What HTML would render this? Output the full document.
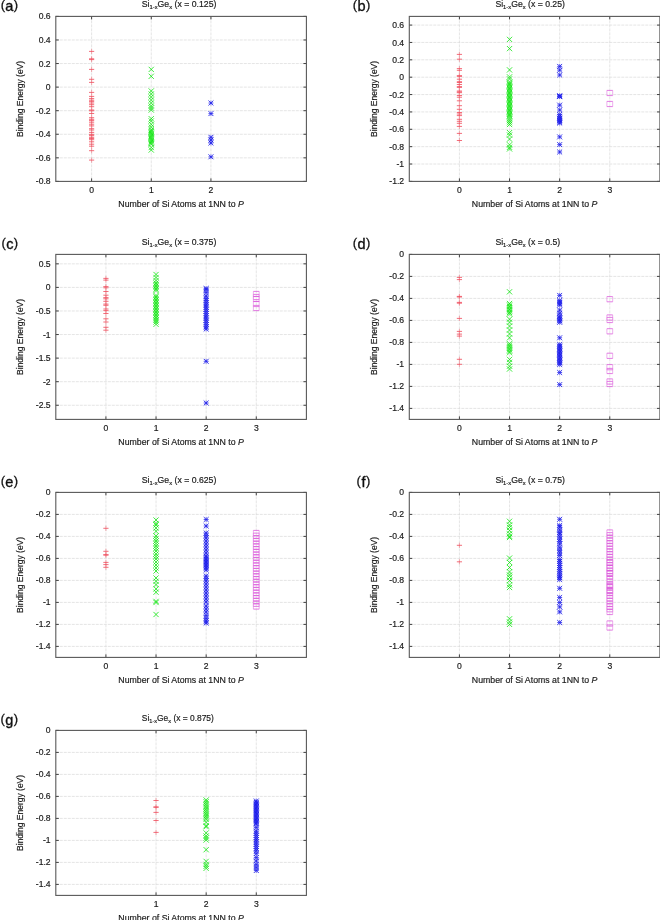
<!DOCTYPE html>
<html><head><meta charset="utf-8"><style>
html,body{margin:0;padding:0;background:#fff;width:660px;height:920px;overflow:hidden}
svg{display:block}
text{font-family:"Liberation Sans",sans-serif;fill:#1a1a1a;stroke:#1a1a1a;stroke-width:0.18}
.tl{font-size:8.6px}
.al{font-size:9px}
.ti{font-size:8.4px}
.pl{font-size:14.5px;fill:#111;stroke:#111;stroke-width:0.35}
.pp{font-size:13px;fill:#111;stroke:#111;stroke-width:0.3}
.grid{stroke:#dadada;stroke-width:0.7;stroke-dasharray:3 1;fill:none}
.tick{stroke:#404040;stroke-width:1;fill:none}
.box{stroke:#585858;stroke-width:1.1;fill:none}
.mk path,.mk rect{stroke-width:0.8;fill:none}
</style></head><body>
<svg width="660" height="920" viewBox="0 0 660 920">
<defs><filter id="bl" x="0" y="0" width="100%" height="100%"><feGaussianBlur stdDeviation="0.35"/></filter>
<filter id="bl2" x="0" y="0" width="100%" height="100%"><feGaussianBlur stdDeviation="0.45"/></filter></defs>
<rect width="660" height="920" fill="#fff"/>
<g filter="url(#bl2)">
<path class="grid" d="M55.80 157.83H306.40M55.80 134.26H306.40M55.80 110.69H306.40M55.80 87.11H306.40M55.80 63.54H306.40M55.80 39.97H306.40M91.60 16.40V181.40M151.27 16.40V181.40M210.93 16.40V181.40"/>
<path class="grid" d="M409.30 164.03H659.90M409.30 146.66H659.90M409.30 129.29H659.90M409.30 111.93H659.90M409.30 94.56H659.90M409.30 77.19H659.90M409.30 59.82H659.90M409.30 42.45H659.90M409.30 25.08H659.90M459.42 16.40V181.40M509.54 16.40V181.40M559.66 16.40V181.40M609.78 16.40V181.40"/>
<path class="grid" d="M55.80 405.26H306.40M55.80 381.69H306.40M55.80 358.11H306.40M55.80 334.54H306.40M55.80 310.97H306.40M55.80 287.40H306.40M55.80 263.83H306.40M105.92 254.40V419.40M156.04 254.40V419.40M206.16 254.40V419.40M256.28 254.40V419.40"/>
<path class="grid" d="M409.30 408.40H659.90M409.30 386.40H659.90M409.30 364.40H659.90M409.30 342.40H659.90M409.30 320.40H659.90M409.30 298.40H659.90M409.30 276.40H659.90M459.42 254.40V419.40M509.54 254.40V419.40M559.66 254.40V419.40M609.78 254.40V419.40"/>
<path class="grid" d="M55.80 646.40H306.40M55.80 624.40H306.40M55.80 602.40H306.40M55.80 580.40H306.40M55.80 558.40H306.40M55.80 536.40H306.40M55.80 514.40H306.40M105.92 492.40V657.40M156.04 492.40V657.40M206.16 492.40V657.40M256.28 492.40V657.40"/>
<path class="grid" d="M409.30 646.40H659.90M409.30 624.40H659.90M409.30 602.40H659.90M409.30 580.40H659.90M409.30 558.40H659.90M409.30 536.40H659.90M409.30 514.40H659.90M459.42 492.40V657.40M509.54 492.40V657.40M559.66 492.40V657.40M609.78 492.40V657.40"/>
<path class="grid" d="M55.80 884.40H306.40M55.80 862.40H306.40M55.80 840.40H306.40M55.80 818.40H306.40M55.80 796.40H306.40M55.80 774.40H306.40M55.80 752.40H306.40M156.04 730.40V895.40M206.16 730.40V895.40M256.28 730.40V895.40"/>
<g class="mk"><path d="M91.60 48.80V54.00M91.60 56.20V61.40M91.60 57.00V62.20M91.60 66.80V72.00M91.60 76.70V81.90M91.60 79.80V85.00M91.60 89.80V95.00M91.60 93.80V99.00M91.60 96.00V101.20M91.60 97.60V102.80M91.60 98.80V104.00M91.60 100.40V105.60M91.60 102.10V107.30M91.60 104.10V109.30M91.60 107.40V112.60M91.60 108.20V113.40M91.60 110.90V116.10M91.60 115.10V120.30M91.60 116.70V121.90M91.60 118.00V123.20M91.60 119.60V124.80M91.60 121.60V126.80M91.60 123.30V128.50M91.60 126.10V131.30M91.60 127.40V132.60M91.60 129.80V135.00M91.60 131.80V137.00M91.60 133.00V138.20M91.60 134.70V139.90M91.60 135.90V141.10M91.60 137.10V142.30M91.60 139.20V144.40M91.60 141.60V146.80M91.60 143.60V148.80M91.60 148.10V153.30M91.60 157.50V162.70" stroke="#ee9098"/><path d="M89.00 51.40H94.20M89.00 58.80H94.20M89.00 59.60H94.20M89.00 69.40H94.20M89.00 79.30H94.20M89.00 82.40H94.20M89.00 92.40H94.20M89.00 96.40H94.20M89.00 98.60H94.20M89.00 100.20H94.20M89.00 101.40H94.20M89.00 103.00H94.20M89.00 104.70H94.20M89.00 106.70H94.20M89.00 110.00H94.20M89.00 110.80H94.20M89.00 113.50H94.20M89.00 117.70H94.20M89.00 119.30H94.20M89.00 120.60H94.20M89.00 122.20H94.20M89.00 124.20H94.20M89.00 125.90H94.20M89.00 128.70H94.20M89.00 130.00H94.20M89.00 132.40H94.20M89.00 134.40H94.20M89.00 135.60H94.20M89.00 137.30H94.20M89.00 138.50H94.20M89.00 139.70H94.20M89.00 141.80H94.20M89.00 144.20H94.20M89.00 146.20H94.20M89.00 150.70H94.20M89.00 160.10H94.20" stroke="#f04a5a" stroke-width="0.65"/><path d="M148.67 66.80L153.87 72.00M148.67 72.00L153.87 66.80M148.67 73.70L153.87 78.90M148.67 78.90L153.87 73.70M148.67 88.40L153.87 93.60M148.67 93.60L153.87 88.40M148.67 91.40L153.87 96.60M148.67 96.60L153.87 91.40M148.67 94.40L153.87 99.60M148.67 99.60L153.87 94.40M148.67 97.40L153.87 102.60M148.67 102.60L153.87 97.40M148.67 100.40L153.87 105.60M148.67 105.60L153.87 100.40M148.67 103.40L153.87 108.60M148.67 108.60L153.87 103.40M148.67 105.40L153.87 110.60M148.67 110.60L153.87 105.40M148.67 107.40L153.87 112.60M148.67 112.60L153.87 107.40M148.67 116.10L153.87 121.30M148.67 121.30L153.87 116.10M148.67 118.40L153.87 123.60M148.67 123.60L153.87 118.40M148.67 121.70L153.87 126.90M148.67 126.90L153.87 121.70M148.67 124.50L153.87 129.70M148.67 129.70L153.87 124.50M148.67 127.00L153.87 132.20M148.67 132.20L153.87 127.00M148.67 128.22L153.87 133.42M148.67 133.42L153.87 128.22M148.67 129.43L153.87 134.63M148.67 134.63L153.87 129.43M148.67 130.65L153.87 135.85M148.67 135.85L153.87 130.65M148.67 131.87L153.87 137.07M148.67 137.07L153.87 131.87M148.67 133.08L153.87 138.28M148.67 138.28L153.87 133.08M148.67 134.30L153.87 139.50M148.67 139.50L153.87 134.30M148.67 135.52L153.87 140.72M148.67 140.72L153.87 135.52M148.67 136.73L153.87 141.93M148.67 141.93L153.87 136.73M148.67 137.95L153.87 143.15M148.67 143.15L153.87 137.95M148.67 139.17L153.87 144.37M148.67 144.37L153.87 139.17M148.67 140.38L153.87 145.58M148.67 145.58L153.87 140.38M148.67 141.60L153.87 146.80M148.67 146.80L153.87 141.60M148.67 144.90L153.87 150.10M148.67 150.10L153.87 144.90M148.67 147.40L153.87 152.60M148.67 152.60L153.87 147.40" stroke="#10e610" stroke-width="0.65"/><path d="M210.93 100.55V105.45M210.93 111.15V116.05M210.93 134.85V139.75M210.93 137.65V142.55M210.93 140.55V145.45M210.93 154.35V159.25" stroke="#5050f0"/><path d="M208.48 100.55L213.38 105.45M208.48 105.45L213.38 100.55M208.48 111.15L213.38 116.05M208.48 116.05L213.38 111.15M208.48 134.85L213.38 139.75M208.48 139.75L213.38 134.85M208.48 137.65L213.38 142.55M208.48 142.55L213.38 137.65M208.48 140.55L213.38 145.45M208.48 145.45L213.38 140.55M208.48 154.35L213.38 159.25M208.48 159.25L213.38 154.35" stroke="#0a0ae6" stroke-width="0.8"/><path d="M208.48 103.00H213.38M208.48 113.60H213.38M208.48 137.30H213.38M208.48 140.10H213.38M208.48 143.00H213.38M208.48 156.80H213.38" stroke="#2a2aee" stroke-width="0.8"/>
<path d="M459.42 51.80V57.00M459.42 56.60V61.80M459.42 66.00V71.20M459.42 67.70V72.90M459.42 73.00V78.20M459.42 73.80V79.00M459.42 76.60V81.80M459.42 79.10V84.30M459.42 79.90V85.10M459.42 81.90V87.10M459.42 84.00V89.20M459.42 84.80V90.00M459.42 88.40V93.60M459.42 89.30V94.50M459.42 90.10V95.30M459.42 92.90V98.10M459.42 94.60V99.80M459.42 98.20V103.40M459.42 103.10V108.30M459.42 106.70V111.90M459.42 109.90V115.10M459.42 111.40V116.60M459.42 113.00V118.20M459.42 116.70V121.90M459.42 118.70V123.90M459.42 120.70V125.90M459.42 123.80V129.00M459.42 130.80V136.00M459.42 137.90V143.10" stroke="#ee9098"/><path d="M456.82 54.40H462.02M456.82 59.20H462.02M456.82 68.60H462.02M456.82 70.30H462.02M456.82 75.60H462.02M456.82 76.40H462.02M456.82 79.20H462.02M456.82 81.70H462.02M456.82 82.50H462.02M456.82 84.50H462.02M456.82 86.60H462.02M456.82 87.40H462.02M456.82 91.00H462.02M456.82 91.90H462.02M456.82 92.70H462.02M456.82 95.50H462.02M456.82 97.20H462.02M456.82 100.80H462.02M456.82 105.70H462.02M456.82 109.30H462.02M456.82 112.50H462.02M456.82 114.00H462.02M456.82 115.60H462.02M456.82 119.30H462.02M456.82 121.30H462.02M456.82 123.30H462.02M456.82 126.40H462.02M456.82 133.40H462.02M456.82 140.50H462.02" stroke="#f04a5a" stroke-width="0.65"/><path d="M506.94 36.80L512.14 42.00M506.94 42.00L512.14 36.80M506.94 46.00L512.14 51.20M506.94 51.20L512.14 46.00M506.94 67.30L512.14 72.50M506.94 72.50L512.14 67.30M506.94 74.30L512.14 79.50M506.94 79.50L512.14 74.30M506.94 76.30L512.14 81.50M506.94 81.50L512.14 76.30M506.94 79.40L512.14 84.60M506.94 84.60L512.14 79.40M506.94 80.70L512.14 85.90M506.94 85.90L512.14 80.70M506.94 81.99L512.14 87.19M506.94 87.19L512.14 81.99M506.94 83.29L512.14 88.49M506.94 88.49L512.14 83.29M506.94 84.59L512.14 89.79M506.94 89.79L512.14 84.59M506.94 85.88L512.14 91.08M506.94 91.08L512.14 85.88M506.94 87.18L512.14 92.38M506.94 92.38L512.14 87.18M506.94 88.47L512.14 93.67M506.94 93.67L512.14 88.47M506.94 89.77L512.14 94.97M506.94 94.97L512.14 89.77M506.94 91.07L512.14 96.27M506.94 96.27L512.14 91.07M506.94 92.36L512.14 97.56M506.94 97.56L512.14 92.36M506.94 93.66L512.14 98.86M506.94 98.86L512.14 93.66M506.94 94.96L512.14 100.16M506.94 100.16L512.14 94.96M506.94 96.25L512.14 101.45M506.94 101.45L512.14 96.25M506.94 97.55L512.14 102.75M506.94 102.75L512.14 97.55M506.94 98.84L512.14 104.04M506.94 104.04L512.14 98.84M506.94 100.14L512.14 105.34M506.94 105.34L512.14 100.14M506.94 101.44L512.14 106.64M506.94 106.64L512.14 101.44M506.94 102.73L512.14 107.93M506.94 107.93L512.14 102.73M506.94 104.03L512.14 109.23M506.94 109.23L512.14 104.03M506.94 105.33L512.14 110.53M506.94 110.53L512.14 105.33M506.94 106.62L512.14 111.82M506.94 111.82L512.14 106.62M506.94 107.92L512.14 113.12M506.94 113.12L512.14 107.92M506.94 109.21L512.14 114.41M506.94 114.41L512.14 109.21M506.94 110.51L512.14 115.71M506.94 115.71L512.14 110.51M506.94 111.81L512.14 117.01M506.94 117.01L512.14 111.81M506.94 113.10L512.14 118.30M506.94 118.30L512.14 113.10M506.94 114.40L512.14 119.60M506.94 119.60L512.14 114.40M506.94 116.40L512.14 121.60M506.94 121.60L512.14 116.40M506.94 118.23L512.14 123.43M506.94 123.43L512.14 118.23M506.94 120.07L512.14 125.27M506.94 125.27L512.14 120.07M506.94 121.90L512.14 127.10M506.94 127.10L512.14 121.90M506.94 130.00L512.14 135.20M506.94 135.20L512.14 130.00M506.94 132.40L512.14 137.60M506.94 137.60L512.14 132.40M506.94 136.50L512.14 141.70M506.94 141.70L512.14 136.50M506.94 142.20L512.14 147.40M506.94 147.40L512.14 142.20M506.94 144.70L512.14 149.90M506.94 149.90L512.14 144.70M506.94 146.30L512.14 151.50M506.94 151.50L512.14 146.30" stroke="#10e610" stroke-width="0.65"/><path d="M559.66 63.95V68.85M559.66 67.65V72.55M559.66 72.55V77.45M559.66 93.35V98.25M559.66 93.75V98.65M559.66 94.15V99.05M559.66 102.65V107.55M559.66 107.55V112.45M559.66 112.05V116.95M559.66 114.05V118.95M559.66 115.65V120.55M559.66 117.05V121.95M559.66 118.15V123.05M559.66 119.55V124.45M559.66 120.55V125.45M559.66 134.45V139.35M559.66 142.15V147.05M559.66 149.55V154.45" stroke="#5050f0"/><path d="M557.21 63.95L562.11 68.85M557.21 68.85L562.11 63.95M557.21 67.65L562.11 72.55M557.21 72.55L562.11 67.65M557.21 72.55L562.11 77.45M557.21 77.45L562.11 72.55M557.21 93.35L562.11 98.25M557.21 98.25L562.11 93.35M557.21 93.75L562.11 98.65M557.21 98.65L562.11 93.75M557.21 94.15L562.11 99.05M557.21 99.05L562.11 94.15M557.21 102.65L562.11 107.55M557.21 107.55L562.11 102.65M557.21 107.55L562.11 112.45M557.21 112.45L562.11 107.55M557.21 112.05L562.11 116.95M557.21 116.95L562.11 112.05M557.21 114.05L562.11 118.95M557.21 118.95L562.11 114.05M557.21 115.65L562.11 120.55M557.21 120.55L562.11 115.65M557.21 117.05L562.11 121.95M557.21 121.95L562.11 117.05M557.21 118.15L562.11 123.05M557.21 123.05L562.11 118.15M557.21 119.55L562.11 124.45M557.21 124.45L562.11 119.55M557.21 120.55L562.11 125.45M557.21 125.45L562.11 120.55M557.21 134.45L562.11 139.35M557.21 139.35L562.11 134.45M557.21 142.15L562.11 147.05M557.21 147.05L562.11 142.15M557.21 149.55L562.11 154.45M557.21 154.45L562.11 149.55" stroke="#0a0ae6" stroke-width="0.8"/><path d="M557.21 66.40H562.11M557.21 70.10H562.11M557.21 75.00H562.11M557.21 95.80H562.11M557.21 96.20H562.11M557.21 96.60H562.11M557.21 105.10H562.11M557.21 110.00H562.11M557.21 114.50H562.11M557.21 116.50H562.11M557.21 118.10H562.11M557.21 119.50H562.11M557.21 120.60H562.11M557.21 122.00H562.11M557.21 123.00H562.11M557.21 136.90H562.11M557.21 144.60H562.11M557.21 152.00H562.11" stroke="#2a2aee" stroke-width="0.8"/><path d="M606.88 90.40V95.60M612.68 90.40V95.60M606.88 101.40V106.60M612.68 101.40V106.60" stroke="#e89ce8"/><path d="M606.88 90.40H612.68M606.88 95.60H612.68M606.88 101.40H612.68M606.88 106.60H612.68" stroke="#dc5cdc" stroke-width="0.8"/>
<path d="M105.92 275.80V281.00M105.92 277.50V282.70M105.92 284.00V289.20M105.92 285.20V290.40M105.92 288.90V294.10M105.92 292.60V297.80M105.92 295.00V300.20M105.92 296.20V301.40M105.92 298.70V303.90M105.92 301.50V306.70M105.92 302.70V307.90M105.92 306.40V311.60M105.92 308.00V313.20M105.92 310.90V316.10M105.92 316.20V321.40M105.92 319.40V324.60M105.92 324.70V329.90M105.92 327.60V332.80" stroke="#ee9098"/><path d="M103.32 278.40H108.52M103.32 280.10H108.52M103.32 286.60H108.52M103.32 287.80H108.52M103.32 291.50H108.52M103.32 295.20H108.52M103.32 297.60H108.52M103.32 298.80H108.52M103.32 301.30H108.52M103.32 304.10H108.52M103.32 305.30H108.52M103.32 309.00H108.52M103.32 310.60H108.52M103.32 313.50H108.52M103.32 318.80H108.52M103.32 322.00H108.52M103.32 327.30H108.52M103.32 330.20H108.52" stroke="#f04a5a" stroke-width="0.65"/><path d="M153.44 271.90L158.64 277.10M153.44 277.10L158.64 271.90M153.44 274.90L158.64 280.10M153.44 280.10L158.64 274.90M153.44 277.90L158.64 283.10M153.44 283.10L158.64 277.90M153.44 280.40L158.64 285.60M153.44 285.60L158.64 280.40M153.44 281.90L158.64 287.10M153.44 287.10L158.64 281.90M153.44 283.40L158.64 288.60M153.44 288.60L158.64 283.40M153.44 284.90L158.64 290.10M153.44 290.10L158.64 284.90M153.44 286.40L158.64 291.60M153.44 291.60L158.64 286.40M153.44 287.90L158.64 293.10M153.44 293.10L158.64 287.90M153.44 292.90L158.64 298.10M153.44 298.10L158.64 292.90M153.44 294.40L158.64 299.60M153.44 299.60L158.64 294.40M153.44 295.90L158.64 301.10M153.44 301.10L158.64 295.90M153.44 297.40L158.64 302.60M153.44 302.60L158.64 297.40M153.44 298.90L158.64 304.10M153.44 304.10L158.64 298.90M153.44 300.40L158.64 305.60M153.44 305.60L158.64 300.40M153.44 301.90L158.64 307.10M153.44 307.10L158.64 301.90M153.44 303.40L158.64 308.60M153.44 308.60L158.64 303.40M153.44 304.90L158.64 310.10M153.44 310.10L158.64 304.90M153.44 306.40L158.64 311.60M153.44 311.60L158.64 306.40M153.44 307.90L158.64 313.10M153.44 313.10L158.64 307.90M153.44 309.40L158.64 314.60M153.44 314.60L158.64 309.40M153.44 310.90L158.64 316.10M153.44 316.10L158.64 310.90M153.44 312.40L158.64 317.60M153.44 317.60L158.64 312.40M153.44 313.90L158.64 319.10M153.44 319.10L158.64 313.90M153.44 315.40L158.64 320.60M153.44 320.60L158.64 315.40M153.44 317.40L158.64 322.60M153.44 322.60L158.64 317.40M153.44 319.40L158.64 324.60M153.44 324.60L158.64 319.40M153.44 321.70L158.64 326.90M153.44 326.90L158.64 321.70" stroke="#10e610" stroke-width="0.65"/><path d="M206.16 286.05V290.95M206.16 287.05V291.95M206.16 290.05V294.95M206.16 293.55V298.45M206.16 296.05V300.95M206.16 298.05V302.95M206.16 300.24V305.14M206.16 302.43V307.33M206.16 304.63V309.53M206.16 306.82V311.72M206.16 309.01V313.91M206.16 311.20V316.10M206.16 313.40V318.30M206.16 315.59V320.49M206.16 317.78V322.68M206.16 319.97V324.87M206.16 322.17V327.07M206.16 324.36V329.26M206.16 326.55V331.45M206.16 358.85V363.75M206.16 400.55V405.45" stroke="#5050f0"/><path d="M203.71 286.05L208.61 290.95M203.71 290.95L208.61 286.05M203.71 287.05L208.61 291.95M203.71 291.95L208.61 287.05M203.71 290.05L208.61 294.95M203.71 294.95L208.61 290.05M203.71 293.55L208.61 298.45M203.71 298.45L208.61 293.55M203.71 296.05L208.61 300.95M203.71 300.95L208.61 296.05M203.71 298.05L208.61 302.95M203.71 302.95L208.61 298.05M203.71 300.24L208.61 305.14M203.71 305.14L208.61 300.24M203.71 302.43L208.61 307.33M203.71 307.33L208.61 302.43M203.71 304.63L208.61 309.53M203.71 309.53L208.61 304.63M203.71 306.82L208.61 311.72M203.71 311.72L208.61 306.82M203.71 309.01L208.61 313.91M203.71 313.91L208.61 309.01M203.71 311.20L208.61 316.10M203.71 316.10L208.61 311.20M203.71 313.40L208.61 318.30M203.71 318.30L208.61 313.40M203.71 315.59L208.61 320.49M203.71 320.49L208.61 315.59M203.71 317.78L208.61 322.68M203.71 322.68L208.61 317.78M203.71 319.97L208.61 324.87M203.71 324.87L208.61 319.97M203.71 322.17L208.61 327.07M203.71 327.07L208.61 322.17M203.71 324.36L208.61 329.26M203.71 329.26L208.61 324.36M203.71 326.55L208.61 331.45M203.71 331.45L208.61 326.55M203.71 358.85L208.61 363.75M203.71 363.75L208.61 358.85M203.71 400.55L208.61 405.45M203.71 405.45L208.61 400.55" stroke="#0a0ae6" stroke-width="0.8"/><path d="M203.71 288.50H208.61M203.71 289.50H208.61M203.71 292.50H208.61M203.71 296.00H208.61M203.71 298.50H208.61M203.71 300.50H208.61M203.71 302.69H208.61M203.71 304.88H208.61M203.71 307.08H208.61M203.71 309.27H208.61M203.71 311.46H208.61M203.71 313.65H208.61M203.71 315.85H208.61M203.71 318.04H208.61M203.71 320.23H208.61M203.71 322.42H208.61M203.71 324.62H208.61M203.71 326.81H208.61M203.71 329.00H208.61M203.71 361.30H208.61M203.71 403.00H208.61" stroke="#2a2aee" stroke-width="0.8"/><path d="M253.38 291.40V296.60M259.18 291.40V296.60M253.38 294.40V299.60M259.18 294.40V299.60M253.38 296.40V301.60M259.18 296.40V301.60M253.38 301.40V306.60M259.18 301.40V306.60M253.38 305.40V310.60M259.18 305.40V310.60" stroke="#e89ce8"/><path d="M253.38 291.40H259.18M253.38 296.60H259.18M253.38 294.40H259.18M253.38 299.60H259.18M253.38 296.40H259.18M253.38 301.60H259.18M253.38 301.40H259.18M253.38 306.60H259.18M253.38 305.40H259.18M253.38 310.60H259.18" stroke="#dc5cdc" stroke-width="0.8"/>
<path d="M459.42 274.80V280.00M459.42 277.00V282.20M459.42 293.80V299.00M459.42 294.40V299.60M459.42 299.80V305.00M459.42 300.60V305.80M459.42 315.80V321.00M459.42 328.80V334.00M459.42 331.50V336.70M459.42 333.50V338.70M459.42 356.70V361.90M459.42 361.70V366.90" stroke="#ee9098"/><path d="M456.82 277.40H462.02M456.82 279.60H462.02M456.82 296.40H462.02M456.82 297.00H462.02M456.82 302.40H462.02M456.82 303.20H462.02M456.82 318.40H462.02M456.82 331.40H462.02M456.82 334.10H462.02M456.82 336.10H462.02M456.82 359.30H462.02M456.82 364.30H462.02" stroke="#f04a5a" stroke-width="0.65"/><path d="M506.94 289.20L512.14 294.40M506.94 294.40L512.14 289.20M506.94 300.90L512.14 306.10M506.94 306.10L512.14 300.90M506.94 302.40L512.14 307.60M506.94 307.60L512.14 302.40M506.94 303.90L512.14 309.10M506.94 309.10L512.14 303.90M506.94 305.40L512.14 310.60M506.94 310.60L512.14 305.40M506.94 306.90L512.14 312.10M506.94 312.10L512.14 306.90M506.94 308.40L512.14 313.60M506.94 313.60L512.14 308.40M506.94 309.90L512.14 315.10M506.94 315.10L512.14 309.90M506.94 311.40L512.14 316.60M506.94 316.60L512.14 311.40M506.94 316.60L512.14 321.80M506.94 321.80L512.14 316.60M506.94 319.60L512.14 324.80M506.94 324.80L512.14 319.60M506.94 323.50L512.14 328.70M506.94 328.70L512.14 323.50M506.94 327.40L512.14 332.60M506.94 332.60L512.14 327.40M506.94 331.30L512.14 336.50M506.94 336.50L512.14 331.30M506.94 335.20L512.14 340.40M506.94 340.40L512.14 335.20M506.94 341.10L512.14 346.30M506.94 346.30L512.14 341.10M506.94 342.60L512.14 347.80M506.94 347.80L512.14 342.60M506.94 344.10L512.14 349.30M506.94 349.30L512.14 344.10M506.94 345.60L512.14 350.80M506.94 350.80L512.14 345.60M506.94 347.10L512.14 352.30M506.94 352.30L512.14 347.10M506.94 348.60L512.14 353.80M506.94 353.80L512.14 348.60M506.94 350.10L512.14 355.30M506.94 355.30L512.14 350.10M506.94 356.80L512.14 362.00M506.94 362.00L512.14 356.80M506.94 359.70L512.14 364.90M506.94 364.90L512.14 359.70M506.94 363.60L512.14 368.80M506.94 368.80L512.14 363.60M506.94 366.40L512.14 371.60M506.94 371.60L512.14 366.40" stroke="#10e610" stroke-width="0.65"/><path d="M559.66 292.95V297.85M559.66 298.05V302.95M559.66 299.55V304.45M559.66 301.05V305.95M559.66 302.55V307.45M559.66 307.65V312.55M559.66 310.95V315.85M559.66 313.85V318.75M559.66 315.35V320.25M559.66 316.85V321.75M559.66 318.35V323.25M559.66 319.85V324.75M559.66 335.35V340.25M559.66 342.05V346.95M559.66 343.59V348.49M559.66 345.13V350.03M559.66 346.67V351.57M559.66 348.20V353.10M559.66 349.74V354.64M559.66 351.28V356.18M559.66 352.82V357.72M559.66 354.36V359.26M559.66 355.90V360.80M559.66 357.43V362.33M559.66 358.97V363.87M559.66 360.51V365.41M559.66 362.05V366.95M559.66 370.05V374.95M559.66 382.15V387.05" stroke="#5050f0"/><path d="M557.21 292.95L562.11 297.85M557.21 297.85L562.11 292.95M557.21 298.05L562.11 302.95M557.21 302.95L562.11 298.05M557.21 299.55L562.11 304.45M557.21 304.45L562.11 299.55M557.21 301.05L562.11 305.95M557.21 305.95L562.11 301.05M557.21 302.55L562.11 307.45M557.21 307.45L562.11 302.55M557.21 307.65L562.11 312.55M557.21 312.55L562.11 307.65M557.21 310.95L562.11 315.85M557.21 315.85L562.11 310.95M557.21 313.85L562.11 318.75M557.21 318.75L562.11 313.85M557.21 315.35L562.11 320.25M557.21 320.25L562.11 315.35M557.21 316.85L562.11 321.75M557.21 321.75L562.11 316.85M557.21 318.35L562.11 323.25M557.21 323.25L562.11 318.35M557.21 319.85L562.11 324.75M557.21 324.75L562.11 319.85M557.21 335.35L562.11 340.25M557.21 340.25L562.11 335.35M557.21 342.05L562.11 346.95M557.21 346.95L562.11 342.05M557.21 343.59L562.11 348.49M557.21 348.49L562.11 343.59M557.21 345.13L562.11 350.03M557.21 350.03L562.11 345.13M557.21 346.67L562.11 351.57M557.21 351.57L562.11 346.67M557.21 348.20L562.11 353.10M557.21 353.10L562.11 348.20M557.21 349.74L562.11 354.64M557.21 354.64L562.11 349.74M557.21 351.28L562.11 356.18M557.21 356.18L562.11 351.28M557.21 352.82L562.11 357.72M557.21 357.72L562.11 352.82M557.21 354.36L562.11 359.26M557.21 359.26L562.11 354.36M557.21 355.90L562.11 360.80M557.21 360.80L562.11 355.90M557.21 357.43L562.11 362.33M557.21 362.33L562.11 357.43M557.21 358.97L562.11 363.87M557.21 363.87L562.11 358.97M557.21 360.51L562.11 365.41M557.21 365.41L562.11 360.51M557.21 362.05L562.11 366.95M557.21 366.95L562.11 362.05M557.21 370.05L562.11 374.95M557.21 374.95L562.11 370.05M557.21 382.15L562.11 387.05M557.21 387.05L562.11 382.15" stroke="#0a0ae6" stroke-width="0.8"/><path d="M557.21 295.40H562.11M557.21 300.50H562.11M557.21 302.00H562.11M557.21 303.50H562.11M557.21 305.00H562.11M557.21 310.10H562.11M557.21 313.40H562.11M557.21 316.30H562.11M557.21 317.80H562.11M557.21 319.30H562.11M557.21 320.80H562.11M557.21 322.30H562.11M557.21 337.80H562.11M557.21 344.50H562.11M557.21 346.04H562.11M557.21 347.58H562.11M557.21 349.12H562.11M557.21 350.65H562.11M557.21 352.19H562.11M557.21 353.73H562.11M557.21 355.27H562.11M557.21 356.81H562.11M557.21 358.35H562.11M557.21 359.88H562.11M557.21 361.42H562.11M557.21 362.96H562.11M557.21 364.50H562.11M557.21 372.50H562.11M557.21 384.60H562.11" stroke="#2a2aee" stroke-width="0.8"/><path d="M606.88 296.60V301.80M612.68 296.60V301.80M606.88 314.90V320.10M612.68 314.90V320.10M606.88 317.40V322.60M612.68 317.40V322.60M606.88 328.70V333.90M612.68 328.70V333.90M606.88 353.20V358.40M612.68 353.20V358.40M606.88 364.60V369.80M612.68 364.60V369.80M606.88 368.40V373.60M612.68 368.40V373.60M606.88 378.90V384.10M612.68 378.90V384.10M606.88 381.40V386.60M612.68 381.40V386.60" stroke="#e89ce8"/><path d="M606.88 296.60H612.68M606.88 301.80H612.68M606.88 314.90H612.68M606.88 320.10H612.68M606.88 317.40H612.68M606.88 322.60H612.68M606.88 328.70H612.68M606.88 333.90H612.68M606.88 353.20H612.68M606.88 358.40H612.68M606.88 364.60H612.68M606.88 369.80H612.68M606.88 368.40H612.68M606.88 373.60H612.68M606.88 378.90H612.68M606.88 384.10H612.68M606.88 381.40H612.68M606.88 386.60H612.68" stroke="#dc5cdc" stroke-width="0.8"/>
<path d="M105.92 525.70V530.90M105.92 548.70V553.90M105.92 552.00V557.20M105.92 552.60V557.80M105.92 559.80V565.00M105.92 562.00V567.20M105.92 564.70V569.90" stroke="#ee9098"/><path d="M103.32 528.30H108.52M103.32 551.30H108.52M103.32 554.60H108.52M103.32 555.20H108.52M103.32 562.40H108.52M103.32 564.60H108.52M103.32 567.30H108.52" stroke="#f04a5a" stroke-width="0.65"/><path d="M153.44 517.40L158.64 522.60M153.44 522.60L158.64 517.40M153.44 520.90L158.64 526.10M153.44 526.10L158.64 520.90M153.44 522.40L158.64 527.60M153.44 527.60L158.64 522.40M153.44 525.40L158.64 530.60M153.44 530.60L158.64 525.40M153.44 528.70L158.64 533.90M153.44 533.90L158.64 528.70M153.44 533.40L158.64 538.60M153.44 538.60L158.64 533.40M153.44 535.90L158.64 541.10M153.44 541.10L158.64 535.90M153.44 538.40L158.64 543.60M153.44 543.60L158.64 538.40M153.44 540.90L158.64 546.10M153.44 546.10L158.64 540.90M153.44 543.40L158.64 548.60M153.44 548.60L158.64 543.40M153.44 545.90L158.64 551.10M153.44 551.10L158.64 545.90M153.44 548.40L158.64 553.60M153.44 553.60L158.64 548.40M153.44 551.40L158.64 556.60M153.44 556.60L158.64 551.40M153.44 553.90L158.64 559.10M153.44 559.10L158.64 553.90M153.44 556.40L158.64 561.60M153.44 561.60L158.64 556.40M153.44 559.40L158.64 564.60M153.44 564.60L158.64 559.40M153.44 562.40L158.64 567.60M153.44 567.60L158.64 562.40M153.44 565.40L158.64 570.60M153.44 570.60L158.64 565.40M153.44 568.40L158.64 573.60M153.44 573.60L158.64 568.40M153.44 575.40L158.64 580.60M153.44 580.60L158.64 575.40M153.44 578.70L158.64 583.90M153.44 583.90L158.64 578.70M153.44 582.00L158.64 587.20M153.44 587.20L158.64 582.00M153.44 586.30L158.64 591.50M153.44 591.50L158.64 586.30M153.44 589.60L158.64 594.80M153.44 594.80L158.64 589.60M153.44 598.80L158.64 604.00M153.44 604.00L158.64 598.80M153.44 599.90L158.64 605.10M153.44 605.10L158.64 599.90M153.44 611.90L158.64 617.10M153.44 617.10L158.64 611.90" stroke="#10e610" stroke-width="0.65"/><path d="M206.16 517.05V521.95M206.16 523.55V528.45M206.16 530.55V535.45M206.16 533.05V537.95M206.16 535.55V540.45M206.16 538.55V543.45M206.16 541.55V546.45M206.16 544.55V549.45M206.16 547.55V552.45M206.16 550.55V555.45M206.16 553.55V558.45M206.16 555.05V559.95M206.16 556.55V561.45M206.16 558.05V562.95M206.16 559.55V564.45M206.16 561.05V565.95M206.16 562.55V567.45M206.16 564.05V568.95M206.16 565.55V570.45M206.16 567.55V572.45M206.16 573.55V578.45M206.16 576.05V580.95M206.16 578.55V583.45M206.16 581.55V586.45M206.16 584.55V589.45M206.16 587.55V592.45M206.16 590.55V595.45M206.16 593.55V598.45M206.16 596.55V601.45M206.16 599.55V604.45M206.16 603.55V608.45M206.16 606.55V611.45M206.16 609.55V614.45M206.16 613.05V617.95M206.16 616.05V620.95M206.16 618.55V623.45M206.16 620.55V625.45" stroke="#5050f0"/><path d="M203.71 517.05L208.61 521.95M203.71 521.95L208.61 517.05M203.71 523.55L208.61 528.45M203.71 528.45L208.61 523.55M203.71 530.55L208.61 535.45M203.71 535.45L208.61 530.55M203.71 533.05L208.61 537.95M203.71 537.95L208.61 533.05M203.71 535.55L208.61 540.45M203.71 540.45L208.61 535.55M203.71 538.55L208.61 543.45M203.71 543.45L208.61 538.55M203.71 541.55L208.61 546.45M203.71 546.45L208.61 541.55M203.71 544.55L208.61 549.45M203.71 549.45L208.61 544.55M203.71 547.55L208.61 552.45M203.71 552.45L208.61 547.55M203.71 550.55L208.61 555.45M203.71 555.45L208.61 550.55M203.71 553.55L208.61 558.45M203.71 558.45L208.61 553.55M203.71 555.05L208.61 559.95M203.71 559.95L208.61 555.05M203.71 556.55L208.61 561.45M203.71 561.45L208.61 556.55M203.71 558.05L208.61 562.95M203.71 562.95L208.61 558.05M203.71 559.55L208.61 564.45M203.71 564.45L208.61 559.55M203.71 561.05L208.61 565.95M203.71 565.95L208.61 561.05M203.71 562.55L208.61 567.45M203.71 567.45L208.61 562.55M203.71 564.05L208.61 568.95M203.71 568.95L208.61 564.05M203.71 565.55L208.61 570.45M203.71 570.45L208.61 565.55M203.71 567.55L208.61 572.45M203.71 572.45L208.61 567.55M203.71 573.55L208.61 578.45M203.71 578.45L208.61 573.55M203.71 576.05L208.61 580.95M203.71 580.95L208.61 576.05M203.71 578.55L208.61 583.45M203.71 583.45L208.61 578.55M203.71 581.55L208.61 586.45M203.71 586.45L208.61 581.55M203.71 584.55L208.61 589.45M203.71 589.45L208.61 584.55M203.71 587.55L208.61 592.45M203.71 592.45L208.61 587.55M203.71 590.55L208.61 595.45M203.71 595.45L208.61 590.55M203.71 593.55L208.61 598.45M203.71 598.45L208.61 593.55M203.71 596.55L208.61 601.45M203.71 601.45L208.61 596.55M203.71 599.55L208.61 604.45M203.71 604.45L208.61 599.55M203.71 603.55L208.61 608.45M203.71 608.45L208.61 603.55M203.71 606.55L208.61 611.45M203.71 611.45L208.61 606.55M203.71 609.55L208.61 614.45M203.71 614.45L208.61 609.55M203.71 613.05L208.61 617.95M203.71 617.95L208.61 613.05M203.71 616.05L208.61 620.95M203.71 620.95L208.61 616.05M203.71 618.55L208.61 623.45M203.71 623.45L208.61 618.55M203.71 620.55L208.61 625.45M203.71 625.45L208.61 620.55" stroke="#0a0ae6" stroke-width="0.8"/><path d="M203.71 519.50H208.61M203.71 526.00H208.61M203.71 533.00H208.61M203.71 535.50H208.61M203.71 538.00H208.61M203.71 541.00H208.61M203.71 544.00H208.61M203.71 547.00H208.61M203.71 550.00H208.61M203.71 553.00H208.61M203.71 556.00H208.61M203.71 557.50H208.61M203.71 559.00H208.61M203.71 560.50H208.61M203.71 562.00H208.61M203.71 563.50H208.61M203.71 565.00H208.61M203.71 566.50H208.61M203.71 568.00H208.61M203.71 570.00H208.61M203.71 576.00H208.61M203.71 578.50H208.61M203.71 581.00H208.61M203.71 584.00H208.61M203.71 587.00H208.61M203.71 590.00H208.61M203.71 593.00H208.61M203.71 596.00H208.61M203.71 599.00H208.61M203.71 602.00H208.61M203.71 606.00H208.61M203.71 609.00H208.61M203.71 612.00H208.61M203.71 615.50H208.61M203.71 618.50H208.61M203.71 621.00H208.61M203.71 623.00H208.61" stroke="#2a2aee" stroke-width="0.8"/><path d="M253.38 530.40V535.60M259.18 530.40V535.60M253.38 533.12V538.32M259.18 533.12V538.32M253.38 535.84V541.04M259.18 535.84V541.04M253.38 538.57V543.77M259.18 538.57V543.77M253.38 541.29V546.49M259.18 541.29V546.49M253.38 544.01V549.21M259.18 544.01V549.21M253.38 546.73V551.93M259.18 546.73V551.93M253.38 549.46V554.66M259.18 549.46V554.66M253.38 552.18V557.38M259.18 552.18V557.38M253.38 554.90V560.10M259.18 554.90V560.10M253.38 557.62V562.82M259.18 557.62V562.82M253.38 560.34V565.54M259.18 560.34V565.54M253.38 563.07V568.27M259.18 563.07V568.27M253.38 565.79V570.99M259.18 565.79V570.99M253.38 568.51V573.71M259.18 568.51V573.71M253.38 571.23V576.43M259.18 571.23V576.43M253.38 573.96V579.16M259.18 573.96V579.16M253.38 576.68V581.88M259.18 576.68V581.88M253.38 579.40V584.60M259.18 579.40V584.60M253.38 582.12V587.32M259.18 582.12V587.32M253.38 584.84V590.04M259.18 584.84V590.04M253.38 587.57V592.77M259.18 587.57V592.77M253.38 590.29V595.49M259.18 590.29V595.49M253.38 593.01V598.21M259.18 593.01V598.21M253.38 595.73V600.93M259.18 595.73V600.93M253.38 598.46V603.66M259.18 598.46V603.66M253.38 601.18V606.38M259.18 601.18V606.38M253.38 603.90V609.10M259.18 603.90V609.10" stroke="#e89ce8"/><path d="M253.38 530.40H259.18M253.38 535.60H259.18M253.38 533.12H259.18M253.38 538.32H259.18M253.38 535.84H259.18M253.38 541.04H259.18M253.38 538.57H259.18M253.38 543.77H259.18M253.38 541.29H259.18M253.38 546.49H259.18M253.38 544.01H259.18M253.38 549.21H259.18M253.38 546.73H259.18M253.38 551.93H259.18M253.38 549.46H259.18M253.38 554.66H259.18M253.38 552.18H259.18M253.38 557.38H259.18M253.38 554.90H259.18M253.38 560.10H259.18M253.38 557.62H259.18M253.38 562.82H259.18M253.38 560.34H259.18M253.38 565.54H259.18M253.38 563.07H259.18M253.38 568.27H259.18M253.38 565.79H259.18M253.38 570.99H259.18M253.38 568.51H259.18M253.38 573.71H259.18M253.38 571.23H259.18M253.38 576.43H259.18M253.38 573.96H259.18M253.38 579.16H259.18M253.38 576.68H259.18M253.38 581.88H259.18M253.38 579.40H259.18M253.38 584.60H259.18M253.38 582.12H259.18M253.38 587.32H259.18M253.38 584.84H259.18M253.38 590.04H259.18M253.38 587.57H259.18M253.38 592.77H259.18M253.38 590.29H259.18M253.38 595.49H259.18M253.38 593.01H259.18M253.38 598.21H259.18M253.38 595.73H259.18M253.38 600.93H259.18M253.38 598.46H259.18M253.38 603.66H259.18M253.38 601.18H259.18M253.38 606.38H259.18M253.38 603.90H259.18M253.38 609.10H259.18" stroke="#dc5cdc" stroke-width="0.8"/>
<path d="M459.42 542.70V547.90M459.42 559.20V564.40" stroke="#ee9098"/><path d="M456.82 545.30H462.02M456.82 561.80H462.02" stroke="#f04a5a" stroke-width="0.65"/><path d="M506.94 518.70L512.14 523.90M506.94 523.90L512.14 518.70M506.94 522.40L512.14 527.60M506.94 527.60L512.14 522.40M506.94 524.90L512.14 530.10M506.94 530.10L512.14 524.90M506.94 528.00L512.14 533.20M506.94 533.20L512.14 528.00M506.94 531.20L512.14 536.40M506.94 536.40L512.14 531.20M506.94 533.70L512.14 538.90M506.94 538.90L512.14 533.70M506.94 534.90L512.14 540.10M506.94 540.10L512.14 534.90M506.94 555.50L512.14 560.70M506.94 560.70L512.14 555.50M506.94 559.90L512.14 565.10M506.94 565.10L512.14 559.90M506.94 564.90L512.14 570.10M506.94 570.10L512.14 564.90M506.94 569.30L512.14 574.50M506.94 574.50L512.14 569.30M506.94 572.40L512.14 577.60M506.94 577.60L512.14 572.40M506.94 574.90L512.14 580.10M506.94 580.10L512.14 574.90M506.94 578.00L512.14 583.20M506.94 583.20L512.14 578.00M506.94 582.40L512.14 587.60M506.94 587.60L512.14 582.40M506.94 584.90L512.14 590.10M506.94 590.10L512.14 584.90M506.94 616.20L512.14 621.40M506.94 621.40L512.14 616.20M506.94 619.30L512.14 624.50M506.94 624.50L512.14 619.30M506.94 621.80L512.14 627.00M506.94 627.00L512.14 621.80" stroke="#10e610" stroke-width="0.65"/><path d="M559.66 516.85V521.75M559.66 523.05V527.95M559.66 524.55V529.45M559.66 527.35V532.25M559.66 530.05V534.95M559.66 531.65V536.55M559.66 534.25V539.15M559.66 536.85V541.75M559.66 539.05V543.95M559.66 541.65V546.55M559.66 545.15V550.05M559.66 548.05V552.95M559.66 550.55V555.45M559.66 553.05V557.95M559.66 557.05V561.95M559.66 558.85V563.75M559.66 560.95V565.85M559.66 563.05V567.95M559.66 565.15V570.05M559.66 567.25V572.15M559.66 569.35V574.25M559.66 571.45V576.35M559.66 573.55V578.45M559.66 575.05V579.95M559.66 577.05V581.95M559.66 585.85V590.75M559.66 595.05V599.95M559.66 600.05V604.95M559.66 604.45V609.35M559.66 609.45V614.35M559.66 620.05V624.95" stroke="#5050f0"/><path d="M557.21 516.85L562.11 521.75M557.21 521.75L562.11 516.85M557.21 523.05L562.11 527.95M557.21 527.95L562.11 523.05M557.21 524.55L562.11 529.45M557.21 529.45L562.11 524.55M557.21 527.35L562.11 532.25M557.21 532.25L562.11 527.35M557.21 530.05L562.11 534.95M557.21 534.95L562.11 530.05M557.21 531.65L562.11 536.55M557.21 536.55L562.11 531.65M557.21 534.25L562.11 539.15M557.21 539.15L562.11 534.25M557.21 536.85L562.11 541.75M557.21 541.75L562.11 536.85M557.21 539.05L562.11 543.95M557.21 543.95L562.11 539.05M557.21 541.65L562.11 546.55M557.21 546.55L562.11 541.65M557.21 545.15L562.11 550.05M557.21 550.05L562.11 545.15M557.21 548.05L562.11 552.95M557.21 552.95L562.11 548.05M557.21 550.55L562.11 555.45M557.21 555.45L562.11 550.55M557.21 553.05L562.11 557.95M557.21 557.95L562.11 553.05M557.21 557.05L562.11 561.95M557.21 561.95L562.11 557.05M557.21 558.85L562.11 563.75M557.21 563.75L562.11 558.85M557.21 560.95L562.11 565.85M557.21 565.85L562.11 560.95M557.21 563.05L562.11 567.95M557.21 567.95L562.11 563.05M557.21 565.15L562.11 570.05M557.21 570.05L562.11 565.15M557.21 567.25L562.11 572.15M557.21 572.15L562.11 567.25M557.21 569.35L562.11 574.25M557.21 574.25L562.11 569.35M557.21 571.45L562.11 576.35M557.21 576.35L562.11 571.45M557.21 573.55L562.11 578.45M557.21 578.45L562.11 573.55M557.21 575.05L562.11 579.95M557.21 579.95L562.11 575.05M557.21 577.05L562.11 581.95M557.21 581.95L562.11 577.05M557.21 585.85L562.11 590.75M557.21 590.75L562.11 585.85M557.21 595.05L562.11 599.95M557.21 599.95L562.11 595.05M557.21 600.05L562.11 604.95M557.21 604.95L562.11 600.05M557.21 604.45L562.11 609.35M557.21 609.35L562.11 604.45M557.21 609.45L562.11 614.35M557.21 614.35L562.11 609.45M557.21 620.05L562.11 624.95M557.21 624.95L562.11 620.05" stroke="#0a0ae6" stroke-width="0.8"/><path d="M557.21 519.30H562.11M557.21 525.50H562.11M557.21 527.00H562.11M557.21 529.80H562.11M557.21 532.50H562.11M557.21 534.10H562.11M557.21 536.70H562.11M557.21 539.30H562.11M557.21 541.50H562.11M557.21 544.10H562.11M557.21 547.60H562.11M557.21 550.50H562.11M557.21 553.00H562.11M557.21 555.50H562.11M557.21 559.50H562.11M557.21 561.30H562.11M557.21 563.40H562.11M557.21 565.50H562.11M557.21 567.60H562.11M557.21 569.70H562.11M557.21 571.80H562.11M557.21 573.90H562.11M557.21 576.00H562.11M557.21 577.50H562.11M557.21 579.50H562.11M557.21 588.30H562.11M557.21 597.50H562.11M557.21 602.50H562.11M557.21 606.90H562.11M557.21 611.90H562.11M557.21 622.50H562.11" stroke="#2a2aee" stroke-width="0.8"/><path d="M606.88 529.90V535.10M612.68 529.90V535.10M606.88 532.64V537.84M612.68 532.64V537.84M606.88 535.38V540.58M612.68 535.38V540.58M606.88 538.12V543.32M612.68 538.12V543.32M606.88 540.87V546.07M612.68 540.87V546.07M606.88 543.61V548.81M612.68 543.61V548.81M606.88 546.35V551.55M612.68 546.35V551.55M606.88 549.09V554.29M612.68 549.09V554.29M606.88 551.83V557.03M612.68 551.83V557.03M606.88 554.57V559.77M612.68 554.57V559.77M606.88 557.31V562.51M612.68 557.31V562.51M606.88 560.06V565.26M612.68 560.06V565.26M606.88 562.80V568.00M612.68 562.80V568.00M606.88 565.54V570.74M612.68 565.54V570.74M606.88 568.28V573.48M612.68 568.28V573.48M606.88 571.02V576.22M612.68 571.02V576.22M606.88 573.76V578.96M612.68 573.76V578.96M606.88 576.50V581.70M612.68 576.50V581.70M606.88 579.24V584.44M612.68 579.24V584.44M606.88 581.99V587.19M612.68 581.99V587.19M606.88 584.73V589.93M612.68 584.73V589.93M606.88 587.47V592.67M612.68 587.47V592.67M606.88 590.21V595.41M612.68 590.21V595.41M606.88 592.95V598.15M612.68 592.95V598.15M606.88 595.69V600.89M612.68 595.69V600.89M606.88 598.43V603.63M612.68 598.43V603.63M606.88 601.18V606.38M612.68 601.18V606.38M606.88 603.92V609.12M612.68 603.92V609.12M606.88 606.66V611.86M612.68 606.66V611.86M606.88 609.40V614.60M612.68 609.40V614.60M606.88 559.90V565.10M612.68 559.90V565.10M606.88 565.40V570.60M612.68 565.40V570.60M606.88 570.40V575.60M612.68 570.40V575.60M606.88 583.40V588.60M612.68 583.40V588.60M606.88 588.40V593.60M612.68 588.40V593.60M606.88 620.90V626.10M612.68 620.90V626.10M606.88 624.90V630.10M612.68 624.90V630.10" stroke="#e89ce8"/><path d="M606.88 529.90H612.68M606.88 535.10H612.68M606.88 532.64H612.68M606.88 537.84H612.68M606.88 535.38H612.68M606.88 540.58H612.68M606.88 538.12H612.68M606.88 543.32H612.68M606.88 540.87H612.68M606.88 546.07H612.68M606.88 543.61H612.68M606.88 548.81H612.68M606.88 546.35H612.68M606.88 551.55H612.68M606.88 549.09H612.68M606.88 554.29H612.68M606.88 551.83H612.68M606.88 557.03H612.68M606.88 554.57H612.68M606.88 559.77H612.68M606.88 557.31H612.68M606.88 562.51H612.68M606.88 560.06H612.68M606.88 565.26H612.68M606.88 562.80H612.68M606.88 568.00H612.68M606.88 565.54H612.68M606.88 570.74H612.68M606.88 568.28H612.68M606.88 573.48H612.68M606.88 571.02H612.68M606.88 576.22H612.68M606.88 573.76H612.68M606.88 578.96H612.68M606.88 576.50H612.68M606.88 581.70H612.68M606.88 579.24H612.68M606.88 584.44H612.68M606.88 581.99H612.68M606.88 587.19H612.68M606.88 584.73H612.68M606.88 589.93H612.68M606.88 587.47H612.68M606.88 592.67H612.68M606.88 590.21H612.68M606.88 595.41H612.68M606.88 592.95H612.68M606.88 598.15H612.68M606.88 595.69H612.68M606.88 600.89H612.68M606.88 598.43H612.68M606.88 603.63H612.68M606.88 601.18H612.68M606.88 606.38H612.68M606.88 603.92H612.68M606.88 609.12H612.68M606.88 606.66H612.68M606.88 611.86H612.68M606.88 609.40H612.68M606.88 614.60H612.68M606.88 559.90H612.68M606.88 565.10H612.68M606.88 565.40H612.68M606.88 570.60H612.68M606.88 570.40H612.68M606.88 575.60H612.68M606.88 583.40H612.68M606.88 588.60H612.68M606.88 588.40H612.68M606.88 593.60H612.68M606.88 620.90H612.68M606.88 626.10H612.68M606.88 624.90H612.68M606.88 630.10H612.68" stroke="#dc5cdc" stroke-width="0.8"/>
<path d="M156.04 797.90V803.10M156.04 804.30V809.50M156.04 804.70V809.90M156.04 809.80V815.00M156.04 817.90V823.10M156.04 829.80V835.00" stroke="#ee9098"/><path d="M153.44 800.50H158.64M153.44 806.90H158.64M153.44 807.30H158.64M153.44 812.40H158.64M153.44 820.50H158.64M153.44 832.40H158.64" stroke="#f04a5a" stroke-width="0.65"/><path d="M203.56 797.40L208.76 802.60M203.56 802.60L208.76 797.40M203.56 799.16L208.76 804.36M203.56 804.36L208.76 799.16M203.56 800.93L208.76 806.13M203.56 806.13L208.76 800.93M203.56 802.69L208.76 807.89M203.56 807.89L208.76 802.69M203.56 804.45L208.76 809.65M203.56 809.65L208.76 804.45M203.56 806.22L208.76 811.42M203.56 811.42L208.76 806.22M203.56 807.98L208.76 813.18M203.56 813.18L208.76 807.98M203.56 809.75L208.76 814.95M203.56 814.95L208.76 809.75M203.56 811.51L208.76 816.71M203.56 816.71L208.76 811.51M203.56 813.27L208.76 818.47M203.56 818.47L208.76 813.27M203.56 815.04L208.76 820.24M203.56 820.24L208.76 815.04M203.56 816.80L208.76 822.00M203.56 822.00L208.76 816.80M203.56 819.70L208.76 824.90M203.56 824.90L208.76 819.70M203.56 823.10L208.76 828.30M203.56 828.30L208.76 823.10M203.56 824.10L208.76 829.30M203.56 829.30L208.76 824.10M203.56 830.40L208.76 835.60M203.56 835.60L208.76 830.40M203.56 833.40L208.76 838.60M203.56 838.60L208.76 833.40M203.56 835.40L208.76 840.60M203.56 840.60L208.76 835.40M203.56 837.40L208.76 842.60M203.56 842.60L208.76 837.40M203.56 847.10L208.76 852.30M203.56 852.30L208.76 847.10M203.56 858.80L208.76 864.00M203.56 864.00L208.76 858.80M203.56 861.80L208.76 867.00M203.56 867.00L208.76 861.80M203.56 863.70L208.76 868.90M203.56 868.90L208.76 863.70M203.56 865.70L208.76 870.90M203.56 870.90L208.76 865.70" stroke="#10e610" stroke-width="0.65"/><path d="M256.28 798.55V803.45M256.28 799.91V804.81M256.28 801.28V806.18M256.28 802.64V807.54M256.28 804.01V808.91M256.28 805.37V810.27M256.28 806.74V811.64M256.28 808.10V813.00M256.28 809.47V814.37M256.28 810.83V815.73M256.28 812.20V817.10M256.28 813.56V818.46M256.28 814.93V819.83M256.28 816.29V821.19M256.28 817.66V822.56M256.28 819.02V823.92M256.28 820.39V825.29M256.28 821.75V826.65M256.28 825.05V829.95M256.28 828.55V833.45M256.28 830.74V835.64M256.28 832.93V837.83M256.28 835.12V840.02M256.28 837.31V842.21M256.28 839.49V844.39M256.28 841.68V846.58M256.28 843.87V848.77M256.28 846.06V850.96M256.28 848.25V853.15M256.28 851.15V856.05M256.28 855.05V859.95M256.28 858.55V863.45M256.28 862.05V866.95M256.28 865.05V869.95M256.28 868.05V872.95" stroke="#5050f0"/><path d="M253.83 798.55L258.73 803.45M253.83 803.45L258.73 798.55M253.83 799.91L258.73 804.81M253.83 804.81L258.73 799.91M253.83 801.28L258.73 806.18M253.83 806.18L258.73 801.28M253.83 802.64L258.73 807.54M253.83 807.54L258.73 802.64M253.83 804.01L258.73 808.91M253.83 808.91L258.73 804.01M253.83 805.37L258.73 810.27M253.83 810.27L258.73 805.37M253.83 806.74L258.73 811.64M253.83 811.64L258.73 806.74M253.83 808.10L258.73 813.00M253.83 813.00L258.73 808.10M253.83 809.47L258.73 814.37M253.83 814.37L258.73 809.47M253.83 810.83L258.73 815.73M253.83 815.73L258.73 810.83M253.83 812.20L258.73 817.10M253.83 817.10L258.73 812.20M253.83 813.56L258.73 818.46M253.83 818.46L258.73 813.56M253.83 814.93L258.73 819.83M253.83 819.83L258.73 814.93M253.83 816.29L258.73 821.19M253.83 821.19L258.73 816.29M253.83 817.66L258.73 822.56M253.83 822.56L258.73 817.66M253.83 819.02L258.73 823.92M253.83 823.92L258.73 819.02M253.83 820.39L258.73 825.29M253.83 825.29L258.73 820.39M253.83 821.75L258.73 826.65M253.83 826.65L258.73 821.75M253.83 825.05L258.73 829.95M253.83 829.95L258.73 825.05M253.83 828.55L258.73 833.45M253.83 833.45L258.73 828.55M253.83 830.74L258.73 835.64M253.83 835.64L258.73 830.74M253.83 832.93L258.73 837.83M253.83 837.83L258.73 832.93M253.83 835.12L258.73 840.02M253.83 840.02L258.73 835.12M253.83 837.31L258.73 842.21M253.83 842.21L258.73 837.31M253.83 839.49L258.73 844.39M253.83 844.39L258.73 839.49M253.83 841.68L258.73 846.58M253.83 846.58L258.73 841.68M253.83 843.87L258.73 848.77M253.83 848.77L258.73 843.87M253.83 846.06L258.73 850.96M253.83 850.96L258.73 846.06M253.83 848.25L258.73 853.15M253.83 853.15L258.73 848.25M253.83 851.15L258.73 856.05M253.83 856.05L258.73 851.15M253.83 855.05L258.73 859.95M253.83 859.95L258.73 855.05M253.83 858.55L258.73 863.45M253.83 863.45L258.73 858.55M253.83 862.05L258.73 866.95M253.83 866.95L258.73 862.05M253.83 865.05L258.73 869.95M253.83 869.95L258.73 865.05M253.83 868.05L258.73 872.95M253.83 872.95L258.73 868.05" stroke="#0a0ae6" stroke-width="0.8"/><path d="M253.83 801.00H258.73M253.83 802.36H258.73M253.83 803.73H258.73M253.83 805.09H258.73M253.83 806.46H258.73M253.83 807.82H258.73M253.83 809.19H258.73M253.83 810.55H258.73M253.83 811.92H258.73M253.83 813.28H258.73M253.83 814.65H258.73M253.83 816.01H258.73M253.83 817.38H258.73M253.83 818.74H258.73M253.83 820.11H258.73M253.83 821.47H258.73M253.83 822.84H258.73M253.83 824.20H258.73M253.83 827.50H258.73M253.83 831.00H258.73M253.83 833.19H258.73M253.83 835.38H258.73M253.83 837.57H258.73M253.83 839.76H258.73M253.83 841.94H258.73M253.83 844.13H258.73M253.83 846.32H258.73M253.83 848.51H258.73M253.83 850.70H258.73M253.83 853.60H258.73M253.83 857.50H258.73M253.83 861.00H258.73M253.83 864.50H258.73M253.83 867.50H258.73M253.83 870.50H258.73" stroke="#2a2aee" stroke-width="0.8"/></g>
</g>
<g filter="url(#bl)">
<path class="tick" d="M55.80 181.40h3.0M306.40 181.40h-3.0M55.80 157.83h3.0M306.40 157.83h-3.0M55.80 134.26h3.0M306.40 134.26h-3.0M55.80 110.69h3.0M306.40 110.69h-3.0M55.80 87.11h3.0M306.40 87.11h-3.0M55.80 63.54h3.0M306.40 63.54h-3.0M55.80 39.97h3.0M306.40 39.97h-3.0M55.80 16.40h3.0M306.40 16.40h-3.0M91.60 181.40v-3.0M91.60 16.40v3.0M151.27 181.40v-3.0M151.27 16.40v3.0M210.93 181.40v-3.0M210.93 16.40v3.0"/>
<rect class="box" x="55.80" y="16.40" width="250.60" height="165.00"/>
<text class="tl" x="50.60" y="184.45" text-anchor="end">-0.8</text>
<text class="tl" x="50.60" y="160.88" text-anchor="end">-0.6</text>
<text class="tl" x="50.60" y="137.31" text-anchor="end">-0.4</text>
<text class="tl" x="50.60" y="113.74" text-anchor="end">-0.2</text>
<text class="tl" x="50.60" y="90.16" text-anchor="end">0</text>
<text class="tl" x="50.60" y="66.59" text-anchor="end">0.2</text>
<text class="tl" x="50.60" y="43.02" text-anchor="end">0.4</text>
<text class="tl" x="50.60" y="19.45" text-anchor="end">0.6</text>
<text class="tl" x="91.60" y="193.00" text-anchor="middle">0</text>
<text class="tl" x="151.27" y="193.00" text-anchor="middle">1</text>
<text class="tl" x="210.93" y="193.00" text-anchor="middle">2</text>
<text class="al" x="181.10" y="206.70" text-anchor="middle" textLength="125.5" lengthAdjust="spacingAndGlyphs">Number of Si Atoms at 1NN to <tspan font-style="italic">P</tspan></text>
<text class="al" transform="translate(23.00 98.90) rotate(-90)" x="0" y="0" text-anchor="middle" textLength="76" lengthAdjust="spacingAndGlyphs">Binding Energy (eV)</text>
<text class="ti" x="141.80" y="7.00" textLength="74.6" lengthAdjust="spacingAndGlyphs">Si<tspan font-size="5.6" dy="1.8">1-x</tspan><tspan dy="-1.8">Ge</tspan><tspan font-size="5.6" dy="1.8">x</tspan><tspan dy="-1.8"> (x = 0.125)</tspan></text>
<text class="pp" x="15.80" y="9.10" text-anchor="middle">)</text>
<text class="pl" x="9.35" y="10.70" text-anchor="middle">a</text>
<text class="pp" x="2.86" y="9.10" text-anchor="middle">(</text>
<path class="tick" d="M409.30 181.40h3.0M659.90 181.40h-3.0M409.30 164.03h3.0M659.90 164.03h-3.0M409.30 146.66h3.0M659.90 146.66h-3.0M409.30 129.29h3.0M659.90 129.29h-3.0M409.30 111.93h3.0M659.90 111.93h-3.0M409.30 94.56h3.0M659.90 94.56h-3.0M409.30 77.19h3.0M659.90 77.19h-3.0M409.30 59.82h3.0M659.90 59.82h-3.0M409.30 42.45h3.0M659.90 42.45h-3.0M409.30 25.08h3.0M659.90 25.08h-3.0M459.42 181.40v-3.0M459.42 16.40v3.0M509.54 181.40v-3.0M509.54 16.40v3.0M559.66 181.40v-3.0M559.66 16.40v3.0M609.78 181.40v-3.0M609.78 16.40v3.0"/>
<rect class="box" x="409.30" y="16.40" width="250.60" height="165.00"/>
<text class="tl" x="404.10" y="184.45" text-anchor="end">-1.2</text>
<text class="tl" x="404.10" y="167.08" text-anchor="end">-1</text>
<text class="tl" x="404.10" y="149.71" text-anchor="end">-0.8</text>
<text class="tl" x="404.10" y="132.34" text-anchor="end">-0.6</text>
<text class="tl" x="404.10" y="114.98" text-anchor="end">-0.4</text>
<text class="tl" x="404.10" y="97.61" text-anchor="end">-0.2</text>
<text class="tl" x="404.10" y="80.24" text-anchor="end">0</text>
<text class="tl" x="404.10" y="62.87" text-anchor="end">0.2</text>
<text class="tl" x="404.10" y="45.50" text-anchor="end">0.4</text>
<text class="tl" x="404.10" y="28.13" text-anchor="end">0.6</text>
<text class="tl" x="459.42" y="193.00" text-anchor="middle">0</text>
<text class="tl" x="509.54" y="193.00" text-anchor="middle">1</text>
<text class="tl" x="559.66" y="193.00" text-anchor="middle">2</text>
<text class="tl" x="609.78" y="193.00" text-anchor="middle">3</text>
<text class="al" x="534.60" y="206.70" text-anchor="middle" textLength="125.5" lengthAdjust="spacingAndGlyphs">Number of Si Atoms at 1NN to <tspan font-style="italic">P</tspan></text>
<text class="al" transform="translate(376.50 98.90) rotate(-90)" x="0" y="0" text-anchor="middle" textLength="76" lengthAdjust="spacingAndGlyphs">Binding Energy (eV)</text>
<text class="ti" x="495.40" y="7.00" textLength="69.5" lengthAdjust="spacingAndGlyphs">Si<tspan font-size="5.6" dy="1.8">1-x</tspan><tspan dy="-1.8">Ge</tspan><tspan font-size="5.6" dy="1.8">x</tspan><tspan dy="-1.8"> (x = 0.25)</tspan></text>
<text class="pp" x="368.20" y="9.10" text-anchor="middle">)</text>
<text class="pl" x="361.60" y="10.70" text-anchor="middle">b</text>
<text class="pp" x="354.97" y="9.10" text-anchor="middle">(</text>
<path class="tick" d="M55.80 405.26h3.0M306.40 405.26h-3.0M55.80 381.69h3.0M306.40 381.69h-3.0M55.80 358.11h3.0M306.40 358.11h-3.0M55.80 334.54h3.0M306.40 334.54h-3.0M55.80 310.97h3.0M306.40 310.97h-3.0M55.80 287.40h3.0M306.40 287.40h-3.0M55.80 263.83h3.0M306.40 263.83h-3.0M105.92 419.40v-3.0M105.92 254.40v3.0M156.04 419.40v-3.0M156.04 254.40v3.0M206.16 419.40v-3.0M206.16 254.40v3.0M256.28 419.40v-3.0M256.28 254.40v3.0"/>
<rect class="box" x="55.80" y="254.40" width="250.60" height="165.00"/>
<text class="tl" x="50.60" y="408.31" text-anchor="end">-2.5</text>
<text class="tl" x="50.60" y="384.74" text-anchor="end">-2</text>
<text class="tl" x="50.60" y="361.16" text-anchor="end">-1.5</text>
<text class="tl" x="50.60" y="337.59" text-anchor="end">-1</text>
<text class="tl" x="50.60" y="314.02" text-anchor="end">-0.5</text>
<text class="tl" x="50.60" y="290.45" text-anchor="end">0</text>
<text class="tl" x="50.60" y="266.88" text-anchor="end">0.5</text>
<text class="tl" x="105.92" y="431.00" text-anchor="middle">0</text>
<text class="tl" x="156.04" y="431.00" text-anchor="middle">1</text>
<text class="tl" x="206.16" y="431.00" text-anchor="middle">2</text>
<text class="tl" x="256.28" y="431.00" text-anchor="middle">3</text>
<text class="al" x="181.10" y="444.70" text-anchor="middle" textLength="125.5" lengthAdjust="spacingAndGlyphs">Number of Si Atoms at 1NN to <tspan font-style="italic">P</tspan></text>
<text class="al" transform="translate(23.00 336.90) rotate(-90)" x="0" y="0" text-anchor="middle" textLength="76" lengthAdjust="spacingAndGlyphs">Binding Energy (eV)</text>
<text class="ti" x="141.80" y="245.00" textLength="74.5" lengthAdjust="spacingAndGlyphs">Si<tspan font-size="5.6" dy="1.8">1-x</tspan><tspan dy="-1.8">Ge</tspan><tspan font-size="5.6" dy="1.8">x</tspan><tspan dy="-1.8"> (x = 0.375)</tspan></text>
<text class="pp" x="15.80" y="247.10" text-anchor="middle">)</text>
<text class="pl" x="9.75" y="248.70" text-anchor="middle">c</text>
<text class="pp" x="3.68" y="247.10" text-anchor="middle">(</text>
<path class="tick" d="M409.30 408.40h3.0M659.90 408.40h-3.0M409.30 386.40h3.0M659.90 386.40h-3.0M409.30 364.40h3.0M659.90 364.40h-3.0M409.30 342.40h3.0M659.90 342.40h-3.0M409.30 320.40h3.0M659.90 320.40h-3.0M409.30 298.40h3.0M659.90 298.40h-3.0M409.30 276.40h3.0M659.90 276.40h-3.0M409.30 254.40h3.0M659.90 254.40h-3.0M459.42 419.40v-3.0M459.42 254.40v3.0M509.54 419.40v-3.0M509.54 254.40v3.0M559.66 419.40v-3.0M559.66 254.40v3.0M609.78 419.40v-3.0M609.78 254.40v3.0"/>
<rect class="box" x="409.30" y="254.40" width="250.60" height="165.00"/>
<text class="tl" x="404.10" y="411.45" text-anchor="end">-1.4</text>
<text class="tl" x="404.10" y="389.45" text-anchor="end">-1.2</text>
<text class="tl" x="404.10" y="367.45" text-anchor="end">-1</text>
<text class="tl" x="404.10" y="345.45" text-anchor="end">-0.8</text>
<text class="tl" x="404.10" y="323.45" text-anchor="end">-0.6</text>
<text class="tl" x="404.10" y="301.45" text-anchor="end">-0.4</text>
<text class="tl" x="404.10" y="279.45" text-anchor="end">-0.2</text>
<text class="tl" x="404.10" y="257.45" text-anchor="end">0</text>
<text class="tl" x="459.42" y="431.00" text-anchor="middle">0</text>
<text class="tl" x="509.54" y="431.00" text-anchor="middle">1</text>
<text class="tl" x="559.66" y="431.00" text-anchor="middle">2</text>
<text class="tl" x="609.78" y="431.00" text-anchor="middle">3</text>
<text class="al" x="534.60" y="444.70" text-anchor="middle" textLength="125.5" lengthAdjust="spacingAndGlyphs">Number of Si Atoms at 1NN to <tspan font-style="italic">P</tspan></text>
<text class="al" transform="translate(376.50 336.90) rotate(-90)" x="0" y="0" text-anchor="middle" textLength="76" lengthAdjust="spacingAndGlyphs">Binding Energy (eV)</text>
<text class="ti" x="495.40" y="245.00" textLength="64.7" lengthAdjust="spacingAndGlyphs">Si<tspan font-size="5.6" dy="1.8">1-x</tspan><tspan dy="-1.8">Ge</tspan><tspan font-size="5.6" dy="1.8">x</tspan><tspan dy="-1.8"> (x = 0.5)</tspan></text>
<text class="pp" x="368.20" y="247.10" text-anchor="middle">)</text>
<text class="pl" x="361.60" y="248.70" text-anchor="middle">d</text>
<text class="pp" x="354.97" y="247.10" text-anchor="middle">(</text>
<path class="tick" d="M55.80 646.40h3.0M306.40 646.40h-3.0M55.80 624.40h3.0M306.40 624.40h-3.0M55.80 602.40h3.0M306.40 602.40h-3.0M55.80 580.40h3.0M306.40 580.40h-3.0M55.80 558.40h3.0M306.40 558.40h-3.0M55.80 536.40h3.0M306.40 536.40h-3.0M55.80 514.40h3.0M306.40 514.40h-3.0M55.80 492.40h3.0M306.40 492.40h-3.0M105.92 657.40v-3.0M105.92 492.40v3.0M156.04 657.40v-3.0M156.04 492.40v3.0M206.16 657.40v-3.0M206.16 492.40v3.0M256.28 657.40v-3.0M256.28 492.40v3.0"/>
<rect class="box" x="55.80" y="492.40" width="250.60" height="165.00"/>
<text class="tl" x="50.60" y="649.45" text-anchor="end">-1.4</text>
<text class="tl" x="50.60" y="627.45" text-anchor="end">-1.2</text>
<text class="tl" x="50.60" y="605.45" text-anchor="end">-1</text>
<text class="tl" x="50.60" y="583.45" text-anchor="end">-0.8</text>
<text class="tl" x="50.60" y="561.45" text-anchor="end">-0.6</text>
<text class="tl" x="50.60" y="539.45" text-anchor="end">-0.4</text>
<text class="tl" x="50.60" y="517.45" text-anchor="end">-0.2</text>
<text class="tl" x="50.60" y="495.45" text-anchor="end">0</text>
<text class="tl" x="105.92" y="669.00" text-anchor="middle">0</text>
<text class="tl" x="156.04" y="669.00" text-anchor="middle">1</text>
<text class="tl" x="206.16" y="669.00" text-anchor="middle">2</text>
<text class="tl" x="256.28" y="669.00" text-anchor="middle">3</text>
<text class="al" x="181.10" y="682.70" text-anchor="middle" textLength="125.5" lengthAdjust="spacingAndGlyphs">Number of Si Atoms at 1NN to <tspan font-style="italic">P</tspan></text>
<text class="al" transform="translate(23.00 574.90) rotate(-90)" x="0" y="0" text-anchor="middle" textLength="76" lengthAdjust="spacingAndGlyphs">Binding Energy (eV)</text>
<text class="ti" x="141.80" y="483.00" textLength="74.5" lengthAdjust="spacingAndGlyphs">Si<tspan font-size="5.6" dy="1.8">1-x</tspan><tspan dy="-1.8">Ge</tspan><tspan font-size="5.6" dy="1.8">x</tspan><tspan dy="-1.8"> (x = 0.625)</tspan></text>
<text class="pp" x="15.80" y="485.10" text-anchor="middle">)</text>
<text class="pl" x="9.33" y="486.70" text-anchor="middle">e</text>
<text class="pp" x="2.83" y="485.10" text-anchor="middle">(</text>
<path class="tick" d="M409.30 646.40h3.0M659.90 646.40h-3.0M409.30 624.40h3.0M659.90 624.40h-3.0M409.30 602.40h3.0M659.90 602.40h-3.0M409.30 580.40h3.0M659.90 580.40h-3.0M409.30 558.40h3.0M659.90 558.40h-3.0M409.30 536.40h3.0M659.90 536.40h-3.0M409.30 514.40h3.0M659.90 514.40h-3.0M409.30 492.40h3.0M659.90 492.40h-3.0M459.42 657.40v-3.0M459.42 492.40v3.0M509.54 657.40v-3.0M509.54 492.40v3.0M559.66 657.40v-3.0M559.66 492.40v3.0M609.78 657.40v-3.0M609.78 492.40v3.0"/>
<rect class="box" x="409.30" y="492.40" width="250.60" height="165.00"/>
<text class="tl" x="404.10" y="649.45" text-anchor="end">-1.4</text>
<text class="tl" x="404.10" y="627.45" text-anchor="end">-1.2</text>
<text class="tl" x="404.10" y="605.45" text-anchor="end">-1</text>
<text class="tl" x="404.10" y="583.45" text-anchor="end">-0.8</text>
<text class="tl" x="404.10" y="561.45" text-anchor="end">-0.6</text>
<text class="tl" x="404.10" y="539.45" text-anchor="end">-0.4</text>
<text class="tl" x="404.10" y="517.45" text-anchor="end">-0.2</text>
<text class="tl" x="404.10" y="495.45" text-anchor="end">0</text>
<text class="tl" x="459.42" y="669.00" text-anchor="middle">0</text>
<text class="tl" x="509.54" y="669.00" text-anchor="middle">1</text>
<text class="tl" x="559.66" y="669.00" text-anchor="middle">2</text>
<text class="tl" x="609.78" y="669.00" text-anchor="middle">3</text>
<text class="al" x="534.60" y="682.70" text-anchor="middle" textLength="125.5" lengthAdjust="spacingAndGlyphs">Number of Si Atoms at 1NN to <tspan font-style="italic">P</tspan></text>
<text class="al" transform="translate(376.50 574.90) rotate(-90)" x="0" y="0" text-anchor="middle" textLength="76" lengthAdjust="spacingAndGlyphs">Binding Energy (eV)</text>
<text class="ti" x="495.40" y="483.00" textLength="69.5" lengthAdjust="spacingAndGlyphs">Si<tspan font-size="5.6" dy="1.8">1-x</tspan><tspan dy="-1.8">Ge</tspan><tspan font-size="5.6" dy="1.8">x</tspan><tspan dy="-1.8"> (x = 0.75)</tspan></text>
<text class="pp" x="368.20" y="485.10" text-anchor="middle">)</text>
<text class="pl" x="363.44" y="486.70" text-anchor="middle">f</text>
<text class="pp" x="358.65" y="485.10" text-anchor="middle">(</text>
<path class="tick" d="M55.80 884.40h3.0M306.40 884.40h-3.0M55.80 862.40h3.0M306.40 862.40h-3.0M55.80 840.40h3.0M306.40 840.40h-3.0M55.80 818.40h3.0M306.40 818.40h-3.0M55.80 796.40h3.0M306.40 796.40h-3.0M55.80 774.40h3.0M306.40 774.40h-3.0M55.80 752.40h3.0M306.40 752.40h-3.0M55.80 730.40h3.0M306.40 730.40h-3.0M156.04 895.40v-3.0M156.04 730.40v3.0M206.16 895.40v-3.0M206.16 730.40v3.0M256.28 895.40v-3.0M256.28 730.40v3.0"/>
<rect class="box" x="55.80" y="730.40" width="250.60" height="165.00"/>
<text class="tl" x="50.60" y="887.45" text-anchor="end">-1.4</text>
<text class="tl" x="50.60" y="865.45" text-anchor="end">-1.2</text>
<text class="tl" x="50.60" y="843.45" text-anchor="end">-1</text>
<text class="tl" x="50.60" y="821.45" text-anchor="end">-0.8</text>
<text class="tl" x="50.60" y="799.45" text-anchor="end">-0.6</text>
<text class="tl" x="50.60" y="777.45" text-anchor="end">-0.4</text>
<text class="tl" x="50.60" y="755.45" text-anchor="end">-0.2</text>
<text class="tl" x="50.60" y="733.45" text-anchor="end">0</text>
<text class="tl" x="156.04" y="907.00" text-anchor="middle">1</text>
<text class="tl" x="206.16" y="907.00" text-anchor="middle">2</text>
<text class="tl" x="256.28" y="907.00" text-anchor="middle">3</text>
<text class="al" x="181.10" y="920.70" text-anchor="middle" textLength="125.5" lengthAdjust="spacingAndGlyphs">Number of Si Atoms at 1NN to <tspan font-style="italic">P</tspan></text>
<text class="al" transform="translate(23.00 812.90) rotate(-90)" x="0" y="0" text-anchor="middle" textLength="76" lengthAdjust="spacingAndGlyphs">Binding Energy (eV)</text>
<text class="ti" x="141.80" y="721.00" textLength="72.0" lengthAdjust="spacingAndGlyphs">Si<tspan font-size="5.6" dy="1.8">1-x</tspan><tspan dy="-1.8">Ge</tspan><tspan font-size="5.6" dy="1.8">x</tspan><tspan dy="-1.8"> (x = 0.875)</tspan></text>
<text class="pp" x="15.80" y="723.10" text-anchor="middle">)</text>
<text class="pl" x="9.20" y="724.70" text-anchor="middle">g</text>
<text class="pp" x="2.57" y="723.10" text-anchor="middle">(</text>
</g>
</svg>
</body></html>
